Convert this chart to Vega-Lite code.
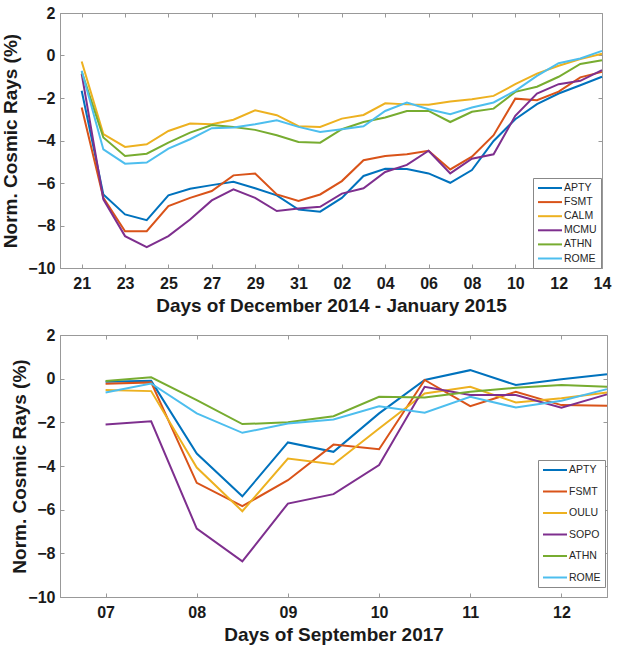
{
  "$schema": "https://vega.github.io/schema/vega-lite/v6.json",
  "background": "white",
  "padding": {"left": 1, "top": 4, "right": 5, "bottom": 3},
  "spacing": 10,
  "align": "none",
  "datasets": {
    "top": [
      {"d":21,"s":"APTY","v":-1.66},{"d":22,"s":"APTY","v":-6.54},{"d":23,"s":"APTY","v":-7.48},{"d":24,"s":"APTY","v":-7.75},{"d":25,"s":"APTY","v":-6.58},{"d":26,"s":"APTY","v":-6.27},{"d":27,"s":"APTY","v":-6.1},{"d":28,"s":"APTY","v":-5.94},{"d":29,"s":"APTY","v":-6.25},{"d":30,"s":"APTY","v":-6.58},{"d":31,"s":"APTY","v":-7.25},{"d":32,"s":"APTY","v":-7.35},{"d":33,"s":"APTY","v":-6.7},{"d":34,"s":"APTY","v":-5.67},{"d":35,"s":"APTY","v":-5.33},{"d":36,"s":"APTY","v":-5.34},{"d":37,"s":"APTY","v":-5.55},{"d":38,"s":"APTY","v":-5.99},{"d":39,"s":"APTY","v":-5.39},{"d":40,"s":"APTY","v":-4.02},{"d":41,"s":"APTY","v":-3.0},{"d":42,"s":"APTY","v":-2.29},{"d":43,"s":"APTY","v":-1.79},{"d":44,"s":"APTY","v":-1.4},{"d":45,"s":"APTY","v":-1.0},
      {"d":21,"s":"FSMT","v":-2.45},{"d":22,"s":"FSMT","v":-6.7},{"d":23,"s":"FSMT","v":-8.27},{"d":24,"s":"FSMT","v":-8.27},{"d":25,"s":"FSMT","v":-7.09},{"d":26,"s":"FSMT","v":-6.7},{"d":27,"s":"FSMT","v":-6.38},{"d":28,"s":"FSMT","v":-5.64},{"d":29,"s":"FSMT","v":-5.55},{"d":30,"s":"FSMT","v":-6.54},{"d":31,"s":"FSMT","v":-6.85},{"d":32,"s":"FSMT","v":-6.54},{"d":33,"s":"FSMT","v":-5.91},{"d":34,"s":"FSMT","v":-4.93},{"d":35,"s":"FSMT","v":-4.73},{"d":36,"s":"FSMT","v":-4.65},{"d":37,"s":"FSMT","v":-4.48},{"d":38,"s":"FSMT","v":-5.36},{"d":39,"s":"FSMT","v":-4.76},{"d":40,"s":"FSMT","v":-3.75},{"d":41,"s":"FSMT","v":-2.03},{"d":42,"s":"FSMT","v":-2.1},{"d":43,"s":"FSMT","v":-1.7},{"d":44,"s":"FSMT","v":-1.03},{"d":45,"s":"FSMT","v":-0.77},
      {"d":21,"s":"CALM","v":-0.28},{"d":22,"s":"CALM","v":-3.7},{"d":23,"s":"CALM","v":-4.3},{"d":24,"s":"CALM","v":-4.18},{"d":25,"s":"CALM","v":-3.55},{"d":26,"s":"CALM","v":-3.2},{"d":27,"s":"CALM","v":-3.24},{"d":28,"s":"CALM","v":-3.02},{"d":29,"s":"CALM","v":-2.58},{"d":30,"s":"CALM","v":-2.81},{"d":31,"s":"CALM","v":-3.33},{"d":32,"s":"CALM","v":-3.36},{"d":33,"s":"CALM","v":-2.97},{"d":34,"s":"CALM","v":-2.8},{"d":35,"s":"CALM","v":-2.25},{"d":36,"s":"CALM","v":-2.3},{"d":37,"s":"CALM","v":-2.32},{"d":38,"s":"CALM","v":-2.17},{"d":39,"s":"CALM","v":-2.06},{"d":40,"s":"CALM","v":-1.9},{"d":41,"s":"CALM","v":-1.35},{"d":42,"s":"CALM","v":-0.85},{"d":43,"s":"CALM","v":-0.48},{"d":44,"s":"CALM","v":-0.17},{"d":45,"s":"CALM","v":0.08},
      {"d":21,"s":"MCMU","v":-0.86},{"d":22,"s":"MCMU","v":-6.77},{"d":23,"s":"MCMU","v":-8.5},{"d":24,"s":"MCMU","v":-9.02},{"d":25,"s":"MCMU","v":-8.5},{"d":26,"s":"MCMU","v":-7.72},{"d":27,"s":"MCMU","v":-6.82},{"d":28,"s":"MCMU","v":-6.3},{"d":29,"s":"MCMU","v":-6.7},{"d":30,"s":"MCMU","v":-7.32},{"d":31,"s":"MCMU","v":-7.2},{"d":32,"s":"MCMU","v":-7.12},{"d":33,"s":"MCMU","v":-6.5},{"d":34,"s":"MCMU","v":-6.25},{"d":35,"s":"MCMU","v":-5.48},{"d":36,"s":"MCMU","v":-5.15},{"d":37,"s":"MCMU","v":-4.48},{"d":38,"s":"MCMU","v":-5.55},{"d":39,"s":"MCMU","v":-4.86},{"d":40,"s":"MCMU","v":-4.65},{"d":41,"s":"MCMU","v":-2.84},{"d":42,"s":"MCMU","v":-1.79},{"d":43,"s":"MCMU","v":-1.35},{"d":44,"s":"MCMU","v":-1.19},{"d":45,"s":"MCMU","v":-0.69},
      {"d":21,"s":"ATHN","v":-0.75},{"d":22,"s":"ATHN","v":-3.86},{"d":23,"s":"ATHN","v":-4.73},{"d":24,"s":"ATHN","v":-4.62},{"d":25,"s":"ATHN","v":-4.1},{"d":26,"s":"ATHN","v":-3.63},{"d":27,"s":"ATHN","v":-3.27},{"d":28,"s":"ATHN","v":-3.36},{"d":29,"s":"ATHN","v":-3.5},{"d":30,"s":"ATHN","v":-3.75},{"d":31,"s":"ATHN","v":-4.07},{"d":32,"s":"ATHN","v":-4.1},{"d":33,"s":"ATHN","v":-3.47},{"d":34,"s":"ATHN","v":-3.13},{"d":35,"s":"ATHN","v":-2.92},{"d":36,"s":"ATHN","v":-2.61},{"d":37,"s":"ATHN","v":-2.61},{"d":38,"s":"ATHN","v":-3.13},{"d":39,"s":"ATHN","v":-2.65},{"d":40,"s":"ATHN","v":-2.5},{"d":41,"s":"ATHN","v":-1.71},{"d":42,"s":"ATHN","v":-1.47},{"d":43,"s":"ATHN","v":-1.0},{"d":44,"s":"ATHN","v":-0.4},{"d":45,"s":"ATHN","v":-0.22},
      {"d":21,"s":"ROME","v":-0.72},{"d":22,"s":"ROME","v":-4.42},{"d":23,"s":"ROME","v":-5.09},{"d":24,"s":"ROME","v":-5.04},{"d":25,"s":"ROME","v":-4.38},{"d":26,"s":"ROME","v":-3.94},{"d":27,"s":"ROME","v":-3.42},{"d":28,"s":"ROME","v":-3.39},{"d":29,"s":"ROME","v":-3.24},{"d":30,"s":"ROME","v":-3.05},{"d":31,"s":"ROME","v":-3.36},{"d":32,"s":"ROME","v":-3.6},{"d":33,"s":"ROME","v":-3.47},{"d":34,"s":"ROME","v":-3.33},{"d":35,"s":"ROME","v":-2.61},{"d":36,"s":"ROME","v":-2.21},{"d":37,"s":"ROME","v":-2.53},{"d":38,"s":"ROME","v":-2.76},{"d":39,"s":"ROME","v":-2.45},{"d":40,"s":"ROME","v":-2.21},{"d":41,"s":"ROME","v":-1.66},{"d":42,"s":"ROME","v":-0.96},{"d":43,"s":"ROME","v":-0.36},{"d":44,"s":"ROME","v":-0.14},{"d":45,"s":"ROME","v":0.22}
    ],
    "bottom": [
      {"d":7,"s":"APTY","v":-0.14},{"d":7.5,"s":"APTY","v":-0.1},{"d":8,"s":"APTY","v":-3.43},{"d":8.5,"s":"APTY","v":-5.39},{"d":9,"s":"APTY","v":-2.92},{"d":9.5,"s":"APTY","v":-3.35},{"d":10,"s":"APTY","v":-1.59},{"d":10.5,"s":"APTY","v":-0.06},{"d":11,"s":"APTY","v":0.39},{"d":11.5,"s":"APTY","v":-0.29},{"d":12,"s":"APTY","v":-0.03},{"d":12.5,"s":"APTY","v":0.2},
      {"d":7,"s":"FSMT","v":-0.23},{"d":7.5,"s":"FSMT","v":-0.17},{"d":8,"s":"FSMT","v":-4.77},{"d":8.5,"s":"FSMT","v":-5.84},{"d":9,"s":"FSMT","v":-4.65},{"d":9.5,"s":"FSMT","v":-3.02},{"d":10,"s":"FSMT","v":-3.23},{"d":10.5,"s":"FSMT","v":-0.06},{"d":11,"s":"FSMT","v":-1.26},{"d":11.5,"s":"FSMT","v":-0.6},{"d":12,"s":"FSMT","v":-1.21},{"d":12.5,"s":"FSMT","v":-1.24},
      {"d":7,"s":"OULU","v":-0.52},{"d":7.5,"s":"OULU","v":-0.57},{"d":8,"s":"OULU","v":-4.07},{"d":8.5,"s":"OULU","v":-6.07},{"d":9,"s":"OULU","v":-3.66},{"d":9.5,"s":"OULU","v":-3.92},{"d":10,"s":"OULU","v":-2.28},{"d":10.5,"s":"OULU","v":-0.68},{"d":11,"s":"OULU","v":-0.37},{"d":11.5,"s":"OULU","v":-1.09},{"d":12,"s":"OULU","v":-0.9},{"d":12.5,"s":"OULU","v":-0.63},
      {"d":7,"s":"SOPO","v":-2.1},{"d":7.5,"s":"SOPO","v":-1.95},{"d":8,"s":"SOPO","v":-6.87},{"d":8.5,"s":"SOPO","v":-8.37},{"d":9,"s":"SOPO","v":-5.72},{"d":9.5,"s":"SOPO","v":-5.29},{"d":10,"s":"SOPO","v":-3.96},{"d":10.5,"s":"SOPO","v":-0.37},{"d":11,"s":"SOPO","v":-0.75},{"d":11.5,"s":"SOPO","v":-0.75},{"d":12,"s":"SOPO","v":-1.33},{"d":12.5,"s":"SOPO","v":-0.72},
      {"d":7,"s":"ATHN","v":-0.11},{"d":7.5,"s":"ATHN","v":0.06},{"d":8,"s":"ATHN","v":-0.98},{"d":8.5,"s":"ATHN","v":-2.08},{"d":9,"s":"ATHN","v":-2.0},{"d":9.5,"s":"ATHN","v":-1.72},{"d":10,"s":"ATHN","v":-0.83},{"d":10.5,"s":"ATHN","v":-0.86},{"d":11,"s":"ATHN","v":-0.6},{"d":11.5,"s":"ATHN","v":-0.42},{"d":12,"s":"ATHN","v":-0.29},{"d":12.5,"s":"ATHN","v":-0.37},
      {"d":7,"s":"ROME","v":-0.63},{"d":7.5,"s":"ROME","v":-0.22},{"d":8,"s":"ROME","v":-1.59},{"d":8.5,"s":"ROME","v":-2.48},{"d":9,"s":"ROME","v":-2.05},{"d":9.5,"s":"ROME","v":-1.87},{"d":10,"s":"ROME","v":-1.26},{"d":10.5,"s":"ROME","v":-1.56},{"d":11,"s":"ROME","v":-0.83},{"d":11.5,"s":"ROME","v":-1.32},{"d":12,"s":"ROME","v":-1.01},{"d":12.5,"s":"ROME","v":-0.48}
    ]
  },
  "vconcat": [
    {
      "width": 542,
      "height": 255,
      "data": {"name": "top"},
      "resolve": {"axis": {"x": "independent", "y": "independent"}},
      "layer": [
        {
          "mark": {"type": "line", "strokeWidth": 2},
          "encoding": {
            "x": {"field": "d", "type": "quantitative", "scale": {"domain": [20, 45], "nice": false, "zero": false},
              "axis": {"title": "Days of December 2014 - January 2015", "values": [21,23,25,27,29,31,33,35,37,39,41,43,45],
                "labelExpr": "datum.value > 31 ? ((datum.value - 31) < 10 ? '0' + (datum.value - 31) : '' + (datum.value - 31)) : '' + datum.value"}},
            "y": {"field": "v", "type": "quantitative", "scale": {"domain": [-10, 2], "nice": false},
              "axis": {"title": "Norm. Cosmic Rays  (%)", "values": [-10,-8,-6,-4,-2,0,2], "titlePadding": 7}},
            "color": {"field": "s", "type": "nominal",
              "scale": {"domain": ["APTY","FSMT","CALM","MCMU","ATHN","ROME"], "range": ["#0072BD","#D95319","#EDB120","#7E2F8E","#77AC30","#4DBEEE"]},
              "legend": {"orient": "none", "legendX": 473, "legendY": 165, "rowPadding": 2.1}}
          }
        },
        {
          "mark": {"type": "point", "opacity": 0},
          "encoding": {
            "x": {"field": "d", "type": "quantitative", "axis": {"orient": "top", "labels": false, "title": null, "domain": false, "values": [21,23,25,27,29,31,33,35,37,39,41,43,45]}},
            "y": {"field": "v", "type": "quantitative", "axis": {"orient": "right", "labels": false, "title": null, "domain": false, "values": [-10,-8,-6,-4,-2,0,2]}}
          }
        }
      ]
    },
    {
      "width": 547,
      "height": 262,
      "data": {"name": "bottom"},
      "resolve": {"axis": {"x": "independent", "y": "independent"}},
      "layer": [
        {
          "mark": {"type": "line", "strokeWidth": 2},
          "encoding": {
            "x": {"field": "d", "type": "quantitative", "scale": {"domain": [6.5, 12.5], "nice": false, "zero": false},
              "axis": {"title": "Days of September 2017", "values": [7,8,9,10,11,12],
                "labelExpr": "datum.value < 10 ? '0' + datum.value : '' + datum.value"}},
            "y": {"field": "v", "type": "quantitative", "scale": {"domain": [-10, 2], "nice": false},
              "axis": {"title": "Norm. Cosmic Rays (%)", "values": [-10,-8,-6,-4,-2,0,2], "titlePadding": -2}},
            "color": {"field": "s", "type": "nominal",
              "scale": {"domain": ["APTY","FSMT","OULU","SOPO","ATHN","ROME"], "range": ["#0072BD","#D95319","#EDB120","#7E2F8E","#77AC30","#4DBEEE"]},
              "legend": {"orient": "none", "legendX": 478, "legendY": 125, "rowPadding": 9.5}}
          }
        },
        {
          "mark": {"type": "point", "opacity": 0},
          "encoding": {
            "x": {"field": "d", "type": "quantitative", "axis": {"orient": "top", "labels": false, "title": null, "domain": false, "values": [7,8,9,10,11,12]}},
            "y": {"field": "v", "type": "quantitative", "axis": {"orient": "right", "labels": false, "title": null, "domain": false, "values": [-10,-8,-6,-4,-2,0,2]}}
          }
        }
      ]
    }
  ],
  "resolve": {"scale": {"color": "independent", "x": "independent", "y": "independent"}, "legend": {"color": "independent"}},
  "config": {
    "font": "Liberation Sans",
    "view": {"stroke": "#999999", "strokeWidth": 1},
    "axis": {
      "grid": false,
      "labelFont": "Liberation Sans",
      "labelFontSize": 16,
      "labelFontWeight": "bold",
      "labelColor": "#1a1a1a",
      "labelFlush": false,
      "labelOverlap": false,
      "titleFont": "Liberation Sans",
      "titleFontSize": 19,
      "titleFontWeight": "bold",
      "titleColor": "#1a1a1a",
      "domainColor": "#999999",
      "tickColor": "#999999",
      "tickSize": -4,
      "labelPadding": 9,
      "titlePadding": 6
    },
    "axisX": {"labelPadding": 11, "titlePadding": 5},
    "legend": {
      "title": null,
      "fillColor": "white",
      "strokeColor": "#888888",
      "padding": 4,
      "labelFont": "Liberation Sans",
      "labelFontSize": 10.5,
      "labelColor": "#262626",
      "labelOffset": 15,
      "symbolType": "M-1,0H3.8",
      "symbolSize": 100,
      "symbolStrokeWidth": 2,
      "symbolFillColor": "transparent"
    }
  }
}
